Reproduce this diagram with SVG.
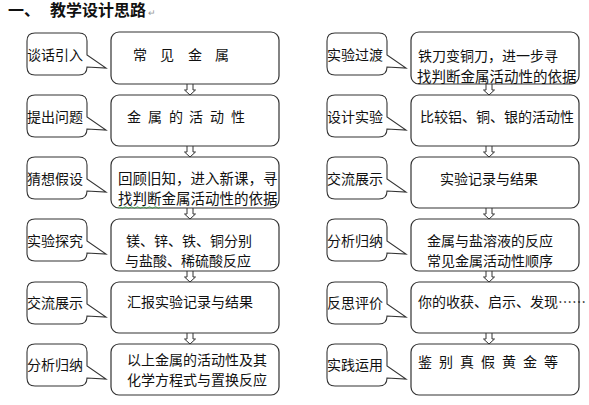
<svg xmlns="http://www.w3.org/2000/svg" xmlns:xlink="http://www.w3.org/1999/xlink" width="589" height="405" viewBox="0 0 589 405">
<style>
  .box{fill:#fff;stroke:#333;stroke-width:1.2}
  .co{fill:#fff;stroke:#333;stroke-width:1.1}
  .arr{fill:#fff;stroke:#333;stroke-width:1}
  text{font-family:"Noto Sans CJK SC","Noto Sans CJK JP",sans-serif;font-size:14px;fill:#111}
  .t{font-size:14.5px}
  .title{font-size:16px;font-weight:bold}
</style>
<defs>
  <path id="callout" class="co" d="M8,0 H52 Q60,0 60,8 V22 L79,35 L60,34 Q60,42 52,42 H8 Q0,42 0,34 V8 Q0,0 8,0 Z"/>
  <path id="arrow" class="arr" d="M-3,0 V6 H-5.5 L0,11 L5.5,6 H3 V0"/>
</defs>
<rect width="589" height="405" fill="#fff"/>
<g id="title">
  <text class="title" x="8" y="16">一、</text>
  <text class="title" x="50" y="16">教学设计思路</text>
  <text x="148" y="16" style="font-size:9px;fill:#999">↵</text>
</g>
<g id="connectors">
  <use xlink:href="#arrow" x="190" y="84"/>
  <use xlink:href="#arrow" x="190" y="146"/>
  <use xlink:href="#arrow" x="190" y="208"/>
  <use xlink:href="#arrow" x="190" y="271"/>
  <use xlink:href="#arrow" x="190" y="333"/>
  <use xlink:href="#arrow" x="489" y="84"/>
  <use xlink:href="#arrow" x="489" y="146"/>
  <use xlink:href="#arrow" x="489" y="208"/>
  <use xlink:href="#arrow" x="489" y="271"/>
  <use xlink:href="#arrow" x="489" y="333"/>
</g>
<!-- left column -->
<g id="L1">
  <use xlink:href="#callout" x="27" y="33"/>
  <text x="27" y="60">谈话引入</text>
  <rect class="box" x="111" y="32" width="168" height="52" rx="8"/>
  <text x="133 160 188 215" y="60">常见金属</text>
</g>
<g id="L2">
  <use xlink:href="#callout" x="27" y="95"/>
  <text x="27" y="122">提出问题</text>
  <rect class="box" x="111" y="95" width="168" height="51" rx="8"/>
  <text x="127 148 169 189 210 231" y="122">金属的活动性</text>
</g>
<g id="L3">
  <use xlink:href="#callout" x="27" y="157"/>
  <text x="27" y="184">猜想假设</text>
  <rect class="box" x="111" y="157" width="168" height="51" rx="8"/>
  <text class="t" x="118" y="184">回顾旧知，进入新课，寻</text>
  <text class="t" x="118" y="204">找判断金属活动性的依据</text>
  <path d="M118,207.5 q1.5,-1.5 3,0 t3,0 t3,0 t3,0 t3,0 t3,0 t3,0 t3,0 t3,0 t3,0 t3,0 t3,0 t3,0 t3,0" fill="none" stroke="#2a9d3a" stroke-width="0.8"/>
</g>
<g id="L4">
  <use xlink:href="#callout" x="27" y="219"/>
  <text x="27" y="246">实验探究</text>
  <rect class="box" x="111" y="219" width="168" height="52" rx="8"/>
  <text x="126" y="246">镁、锌、铁、铜分别</text>
  <text x="125" y="266">与盐酸、稀硫酸反应</text>
</g>
<g id="L5">
  <use xlink:href="#callout" x="27" y="282"/>
  <text x="27" y="308">交流展示</text>
  <rect class="box" x="111" y="282" width="168" height="51" rx="8"/>
  <text x="127" y="307">汇报实验记录与结果</text>
</g>
<g id="L6">
  <use xlink:href="#callout" x="27" y="344"/>
  <text x="27" y="370">分析归纳</text>
  <rect class="box" x="111" y="344" width="168" height="51" rx="8"/>
  <text x="127" y="365">以上金属的活动性及其</text>
  <text x="127" y="385">化学方程式与置换反应</text>
</g>
<!-- right column -->
<g id="R1">
  <use xlink:href="#callout" x="327" y="33"/>
  <text x="327" y="60">实验过渡</text>
  <rect class="box" x="411" y="32" width="168" height="52" rx="8"/>
  <text x="418" y="61">铁刀变铜刀，进一步寻</text>
  <text class="t" x="417" y="82">找判断金属活动性的依据</text>
</g>
<g id="R2">
  <use xlink:href="#callout" x="327" y="95"/>
  <text x="327" y="122">设计实验</text>
  <rect class="box" x="411" y="95" width="168" height="51" rx="8"/>
  <text x="420" y="122">比较铝、铜、银的活动性</text>
</g>
<g id="R3">
  <use xlink:href="#callout" x="327" y="157"/>
  <text x="327" y="184">交流展示</text>
  <rect class="box" x="411" y="157" width="168" height="51" rx="8"/>
  <text x="440" y="184">实验记录与结果</text>
</g>
<g id="R4">
  <use xlink:href="#callout" x="327" y="219"/>
  <text x="327" y="246">分析归纳</text>
  <rect class="box" x="411" y="219" width="168" height="52" rx="8"/>
  <text x="427" y="246">金属与盐溶液的反应</text>
  <text x="427" y="266">常见金属活动性顺序</text>
</g>
<g id="R5">
  <use xlink:href="#callout" x="327" y="282"/>
  <text x="327" y="308">反思评价</text>
  <rect class="box" x="411" y="282" width="168" height="51" rx="8"/>
  <text x="418" y="307">你的收获、启示、发现……</text>
</g>
<g id="R6">
  <use xlink:href="#callout" x="327" y="344"/>
  <text x="327" y="370">实践运用</text>
  <rect class="box" x="411" y="344" width="168" height="51" rx="8"/>
  <text x="418 439 460 481 502 523 544" y="367">鉴别真假黄金等</text>
</g>
</svg>
